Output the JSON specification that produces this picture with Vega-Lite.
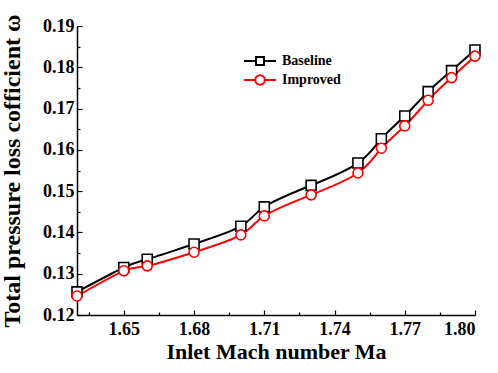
{
  "$schema": "https://vega.github.io/schema/vega-lite/v6.json",
  "width": 398,
  "height": 289,
  "autosize": {"type": "none"},
  "padding": {"left": 77, "top": 26, "right": 23, "bottom": 58},
  "background": "white",
  "config": {
    "view": {"stroke": null},
    "font": "Liberation Serif",
    "axis": {
      "domainColor": "black",
      "domainWidth": 1.5,
      "tickColor": "black",
      "tickWidth": 1.2,
      "grid": false,
      "labelFont": "Liberation Serif",
      "labelFontWeight": "bold",
      "labelFontSize": 18,
      "labelColor": "black",
      "titleFont": "Liberation Serif",
      "titleFontWeight": "bold",
      "titleFontSize": 22,
      "titleColor": "black"
    }
  },
  "data": {
    "values": [
      {"series": "Baseline", "Ma": 1.63, "omega": 0.1256},
      {"series": "Baseline", "Ma": 1.65, "omega": 0.1315},
      {"series": "Baseline", "Ma": 1.66, "omega": 0.1335},
      {"series": "Baseline", "Ma": 1.68, "omega": 0.1372},
      {"series": "Baseline", "Ma": 1.70, "omega": 0.1415},
      {"series": "Baseline", "Ma": 1.71, "omega": 0.1462},
      {"series": "Baseline", "Ma": 1.73, "omega": 0.1514},
      {"series": "Baseline", "Ma": 1.75, "omega": 0.1568},
      {"series": "Baseline", "Ma": 1.76, "omega": 0.1627},
      {"series": "Baseline", "Ma": 1.77, "omega": 0.1682},
      {"series": "Baseline", "Ma": 1.78, "omega": 0.1741},
      {"series": "Baseline", "Ma": 1.79, "omega": 0.1792},
      {"series": "Baseline", "Ma": 1.80, "omega": 0.1842},
      {"series": "Improved", "Ma": 1.63, "omega": 0.1246},
      {"series": "Improved", "Ma": 1.65, "omega": 0.1307},
      {"series": "Improved", "Ma": 1.66, "omega": 0.1319},
      {"series": "Improved", "Ma": 1.68, "omega": 0.1352},
      {"series": "Improved", "Ma": 1.70, "omega": 0.1394},
      {"series": "Improved", "Ma": 1.71, "omega": 0.1440},
      {"series": "Improved", "Ma": 1.73, "omega": 0.1491},
      {"series": "Improved", "Ma": 1.75, "omega": 0.1544},
      {"series": "Improved", "Ma": 1.76, "omega": 0.1604},
      {"series": "Improved", "Ma": 1.77, "omega": 0.1658},
      {"series": "Improved", "Ma": 1.78, "omega": 0.1720},
      {"series": "Improved", "Ma": 1.79, "omega": 0.1775},
      {"series": "Improved", "Ma": 1.80, "omega": 0.1827}
    ]
  },
  "encoding": {
    "x": {
      "field": "Ma", "type": "quantitative",
      "scale": {"domain": [1.63, 1.80], "nice": false, "zero": false},
      "axis": {
        "title": "Inlet Mach number Ma",
        "values": [1.635, 1.65, 1.665, 1.68, 1.695, 1.71, 1.725, 1.74, 1.755, 1.77, 1.785, 1.80],
        "labelExpr": "(round(datum.value*1000) % 30 == 0) ? format(datum.value, '.2f') : ''",
        "tickSize": {"condition": {"test": "round(datum.value*1000) % 30 == 0", "value": -5}, "value": -3},
        "labelPadding": 10,
        "titlePadding": 3
      }
    },
    "y": {
      "field": "omega", "type": "quantitative",
      "scale": {"domain": [0.12, 0.19], "nice": false, "zero": false},
      "axis": {
        "title": "Total pressure loss cofficient ω",
        "titleFontSize": 24,
        "values": [0.12, 0.125, 0.13, 0.135, 0.14, 0.145, 0.15, 0.155, 0.16, 0.165, 0.17, 0.175, 0.18, 0.185, 0.19],
        "labelExpr": "(round(datum.value*1000) % 10 == 0) ? format(datum.value, '.2f') : ''",
        "tickSize": {"condition": {"test": "round(datum.value*1000) % 10 == 0", "value": -5}, "value": -3},
        "labelPadding": 8,
        "titlePadding": 18
      }
    }
  },
  "layer": [
    {
      "mark": {"type": "line", "interpolate": "natural", "strokeWidth": 2},
      "encoding": {
        "color": {
          "field": "series", "type": "nominal",
          "scale": {"domain": ["Baseline", "Improved"], "range": ["#000000", "#ff0000"]},
          "legend": {
            "title": null,
            "orient": "none",
            "legendX": 174,
            "legendY": 26,
            "symbolSize": 256,
            "symbolStrokeWidth": 2,
            "labelFont": "Liberation Serif",
            "labelFontWeight": "bold",
            "labelFontSize": 14,
            "labelColor": "black",
            "rowPadding": 2,
            "labelOffset": 13,
            "encode": {
              "symbols": {
                "update": {
                  "shape": {"signal": "datum.value == 'Baseline' ? 'M-2,0H-0.5M0.5,0H2M-0.5,-0.5H0.5V0.5H-0.5Z' : 'M-2,0H-0.6M0.6,0H2M-0.6,0A0.6,0.6 0 1,0 0.6,0A0.6,0.6 0 1,0 -0.6,0Z'"},
                  "fill": {"value": "white"},
                  "strokeWidth": {"value": 2}
                }
              }
            }
          }
        }
      }
    },
    {
      "transform": [{"filter": "datum.series == 'Baseline'"}],
      "mark": {"type": "point", "shape": "square", "filled": false, "fill": "white", "fillOpacity": 1, "size": 100, "strokeWidth": 1.6, "opacity": 1, "color": "#000000"}
    },
    {
      "transform": [{"filter": "datum.series == 'Improved'"}],
      "mark": {"type": "point", "shape": "circle", "filled": false, "fill": "white", "fillOpacity": 1, "size": 100, "strokeWidth": 1.6, "opacity": 1, "color": "#ff0000"}
    }
  ]
}
